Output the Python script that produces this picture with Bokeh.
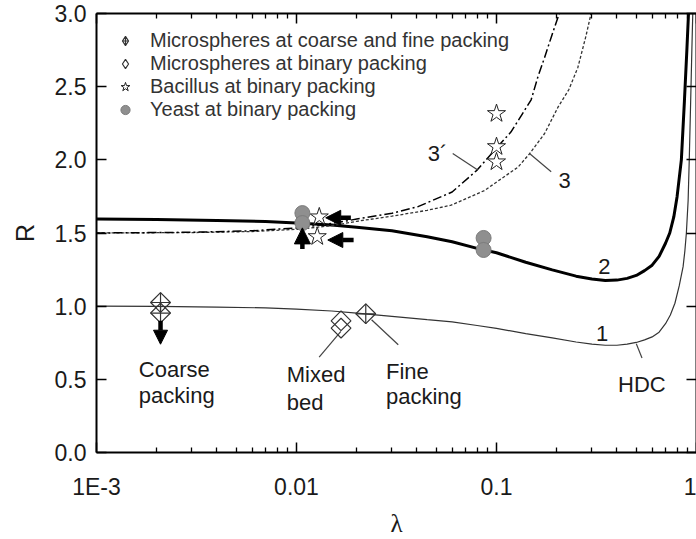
import numpy as np
from bokeh.plotting import figure
from bokeh.models import (FixedTicker, LogAxis, LinearAxis, Legend, LegendItem,
                          Arrow, NormalHead)
from bokeh.embed import file_html
from bokeh.resources import INLINE
from bokeh.core.properties import value

# ---- curves (lambda, R) ----
lam_1 = [0.001, 0.002, 0.004, 0.007, 0.01, 0.015, 0.02, 0.03, 0.045, 0.06, 0.08, 0.1,
         0.14, 0.19, 0.25, 0.3, 0.35, 0.4, 0.45, 0.5, 0.55, 0.6, 0.65, 0.7, 0.74, 0.78,
         0.82, 0.857, 0.875, 0.89, 0.908, 0.92, 0.935, 0.948, 0.958]
r_1 = [1.0, 0.998, 0.994, 0.988, 0.98, 0.967, 0.952, 0.93, 0.908, 0.893, 0.868, 0.848,
       0.812, 0.783, 0.755, 0.74, 0.733, 0.733, 0.74, 0.752, 0.77, 0.79, 0.822, 0.88, 0.94, 1.02,
       1.14, 1.27, 1.38, 1.5, 1.72, 2.0, 2.4, 2.75, 3.0]

lam_2 = [0.001, 0.002, 0.004, 0.007, 0.01, 0.015, 0.02, 0.03, 0.045, 0.06, 0.08, 0.1,
         0.14, 0.19, 0.25, 0.3, 0.35, 0.4, 0.45, 0.5, 0.55, 0.6, 0.65, 0.7, 0.735, 0.77,
         0.8, 0.84, 0.87, 0.895, 0.912]
r_2 = [1.595, 1.592, 1.586, 1.578, 1.568, 1.555, 1.54, 1.515, 1.475, 1.44, 1.395, 1.365,
       1.3, 1.248, 1.205, 1.185, 1.175, 1.178, 1.19, 1.21, 1.243, 1.28, 1.34, 1.43, 1.5, 1.61,
       1.75, 2.0, 2.4, 2.75, 3.0]

lam_3 = [0.001, 0.003, 0.006, 0.01, 0.015, 0.02, 0.03, 0.045, 0.0593, 0.087, 0.128, 0.146,
         0.174, 0.203, 0.23, 0.255, 0.28, 0.297]
r_3 = [1.5, 1.503, 1.51, 1.525, 1.55, 1.58, 1.615, 1.655, 1.69, 1.79, 1.95, 2.04,
       2.18, 2.36, 2.48, 2.63, 2.845, 3.0]

lam_3p = [0.001, 0.003, 0.006, 0.01, 0.015, 0.02, 0.03, 0.0405, 0.06, 0.08, 0.1, 0.118,
          0.135, 0.149, 0.161, 0.174, 0.188, 0.206]
r_3p = [1.5, 1.505, 1.515, 1.535, 1.565, 1.595, 1.635, 1.68, 1.78, 1.93, 2.08, 2.19,
        2.316, 2.41, 2.566, 2.70, 2.84, 3.0]

# ---- experimental points ----
cf_lam = [0.00209, 0.00209, 0.0222]          # microspheres, coarse and fine packing
cf_r = [1.025, 0.953, 0.948]
bin_lam = [0.0167, 0.0167]                   # microspheres, binary packing (mixed bed)
bin_r = [0.90, 0.85]
bac_lam = [0.0130, 0.0127, 0.1, 0.1, 0.1]    # Bacillus
bac_r = [1.61, 1.475, 2.316, 2.09, 1.986]
yeast_lam = [0.0107, 0.0107, 0.0862, 0.0862]  # yeast
yeast_r = [1.636, 1.568, 1.466, 1.384]

x_ticks = [0.001, 0.01, 0.1, 1.0]
x_tick_labels = ["1E-3", "0.01", "0.1", "1"]
x_minor = [k * d for d in (0.001, 0.01, 0.1) for k in range(2, 10)]
y_ticks = [0.0, 0.5, 1.0, 1.5, 2.0, 2.5, 3.0]
y_tick_labels = ["0.0", "0.5", "1.0", "1.5", "2.0", "2.5", "3.0"]

FONT = "Liberation Sans"
TXT = "#1a1a1a"

p = figure(width=696, height=539, x_axis_type="log", x_range=(0.001, 1.0), y_range=(0, 3),
           output_backend="svg", toolbar_location=None,
           min_border_left=96, min_border_right=0, min_border_top=13, min_border_bottom=86)
p.xgrid.visible = False
p.ygrid.visible = False
p.outline_line_color = None
p.background_fill_color = "white"
p.border_fill_color = "white"

xt = FixedTicker(ticks=x_ticks, minor_ticks=x_minor)
yt = FixedTicker(ticks=y_ticks, minor_ticks=[])

def style_axis(ax):
    ax.axis_line_width = 2
    ax.axis_line_color = "black"
    ax.major_tick_in = 10
    ax.major_tick_out = 0
    ax.minor_tick_in = 5
    ax.minor_tick_out = 0
    ax.major_tick_line_width = 1.5
    ax.minor_tick_line_width = 1.3
    ax.major_label_text_font = FONT
    ax.major_label_text_font_size = "23px"
    ax.major_label_text_color = TXT

def hide_labels(ax):
    ax.major_label_text_font_size = "1px"
    ax.major_label_text_alpha = 0
    ax.major_label_standoff = 0
    ax.axis_label_standoff = 0

xa = p.below[0]
style_axis(xa)
xa.ticker = xt
xa.major_label_overrides = dict(zip(x_ticks, x_tick_labels))
xa.major_label_standoff = 21
xa.axis_label = "λ"
xa.axis_label_text_font = "Liberation Serif"
xa.axis_label_text_font_size = "25px"
xa.axis_label_text_font_style = "normal"
xa.axis_label_text_color = TXT
xa.axis_label_standoff = 7

ya = p.left[0]
style_axis(ya)
ya.ticker = yt
ya.major_label_overrides = dict(zip(y_ticks, y_tick_labels))
ya.major_label_standoff = 10
ya.axis_label = "R"
ya.axis_label_text_font = FONT
ya.axis_label_text_font_size = "25px"
ya.axis_label_text_font_style = "normal"
ya.axis_label_text_color = TXT
ya.axis_label_standoff = 13

top = LogAxis(ticker=xt)
style_axis(top)
hide_labels(top)
p.add_layout(top, "above")

right = LinearAxis(ticker=yt)
style_axis(right)
hide_labels(right)
p.add_layout(right, "right")

# ---- curves ----
p.line(lam_1, r_1, line_color="#333333", line_width=1.2)
p.line(lam_2, r_2, line_color="black", line_width=3)
p.line(lam_3, r_3, line_color="#333333", line_width=1.3, line_dash="3 2")
p.line(lam_3p, r_3p, line_color="black", line_width=1.5, line_dash="9 3 2 3")

# ---- leader lines for annotations ----
p.segment(x0=[0.0604, 0.1462, 0.500, 0.01298, 0.02373],
          y0=[2.043, 2.043, 0.743, 0.652, 0.907],
          x1=[0.0806, 0.1877, 0.534, 0.01667, 0.03227],
          y1=[1.93, 1.918, 0.646, 0.827, 0.736],
          line_color="#444444", line_width=1.2)

# ---- arrows ----
arrows = [(0.0187, 1.604, 0.0140, 1.604, 15),
          (0.0193, 1.452, 0.01434, 1.452, 15),
          (0.0107, 1.39, 0.0107, 1.535, 16),
          (0.00209, 0.90, 0.00209, 0.74, 14)]
for xs, ys, xe, ye, hs in arrows:
    p.add_layout(Arrow(end=NormalHead(size=hs, fill_color="black", line_color="black"),
                       x_start=xs, y_start=ys, x_end=xe, y_end=ye,
                       line_color="black", line_width=4.5))

# ---- markers ----
r_cf_sq = p.scatter(cf_lam, cf_r, marker="square", angle=np.pi / 4, size=14,
                    fill_alpha=0, line_color="#333333", line_width=1.2)
r_cf_cr = p.scatter(cf_lam, cf_r, marker="cross", size=20,
                    line_color="#333333", line_width=1.2)
r_bin = p.scatter(bin_lam, bin_r, marker="square", angle=np.pi / 4, size=14,
                  fill_alpha=0, line_color="#333333", line_width=1.2)
r_bac = p.scatter(bac_lam, bac_r, marker="star", size=19, fill_color="white",
                  line_color="#222222", line_width=1)
r_yeast = p.scatter(yeast_lam, yeast_r, marker="circle", size=15, fill_color="#8f8f8f",
                    line_color="#7c7c7c", line_width=1)

# legend-only key glyphs (diamond shapes as in the key), not shown in the plot area
leg_cf = p.scatter(x=[np.nan], y=[np.nan], marker="diamond_cross", fill_alpha=0,
                   line_color="#333333", line_width=1.2)
leg_bin = p.scatter(x=[np.nan], y=[np.nan], marker="diamond", fill_alpha=0,
                    line_color="#333333", line_width=1.2)

# ---- text labels ----
p.text(x=[0.001628, 0.001628, 0.008941, 0.008941, 0.02801, 0.02801, 0.405, 0.0453],
       y=[0.564, 0.389, 0.532, 0.341, 0.556, 0.382, 0.464, 2.043],
       text=["Coarse", "packing", "Mixed", "bed", "Fine", "packing", "HDC", "3´"],
       text_font=value(FONT), text_font_size="22px", text_color=TXT,
       text_align="left", text_baseline="alphabetic")
p.text(x=[0.337, 0.346, 0.2193], y=[0.816, 1.27, 1.861], text=["1", "2", "3"],
       text_font=value(FONT), text_font_size="22px", text_color=TXT,
       text_align="center", text_baseline="alphabetic")

legend = Legend(items=[
    LegendItem(label="Microspheres at coarse and fine packing", renderers=[leg_cf]),
    LegendItem(label="Microspheres at binary packing", renderers=[leg_bin]),
    LegendItem(label="Bacillus at binary packing", renderers=[r_bac]),
    LegendItem(label="Yeast at binary packing", renderers=[r_yeast]),
], location="top_left", margin=16, padding=0, glyph_width=26, glyph_height=23,
    label_standoff=12, spacing=0, border_line_color=None, background_fill_alpha=0,
    label_text_font=FONT, label_text_font_size="20px", label_text_color="#333333",
    label_height=23)
p.add_layout(legend)

open("out.html", "w").write(file_html(p, INLINE))
